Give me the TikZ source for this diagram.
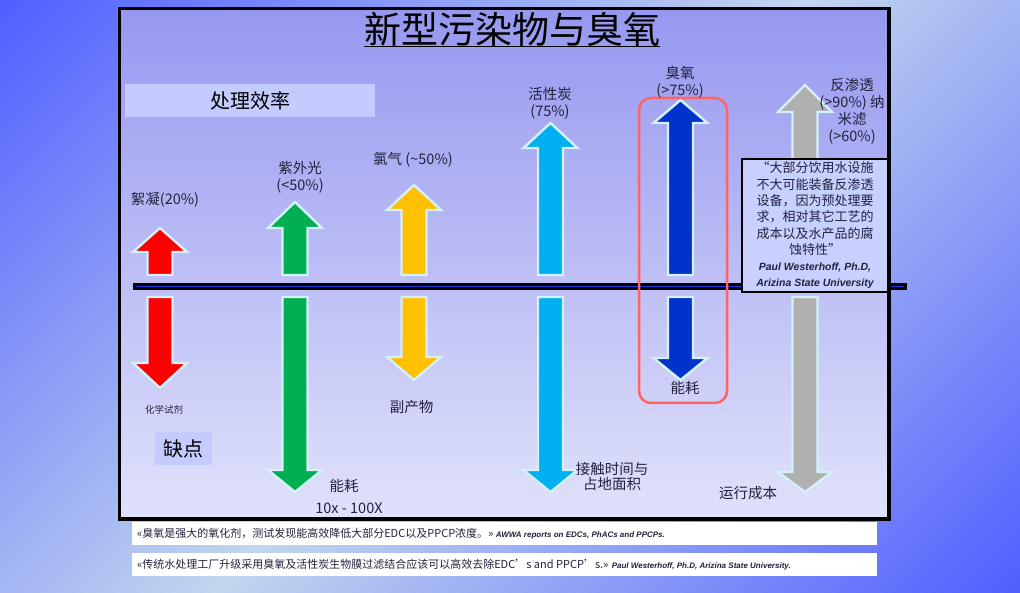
\documentclass[tikz,border=0pt]{standalone}
\usepackage{fontspec}
\setmainfont{Noto Sans CJK SC}
\newfontfamily\credfont{Liberation Sans}
\definecolor{bgdark}{RGB}{82,96,255}
\definecolor{bglight}{RGB}{194,214,238}
\definecolor{frtop}{RGB}{150,152,240}
\definecolor{frbot}{RGB}{224,226,250}
\definecolor{boxblue}{RGB}{196,204,255}
\definecolor{quotebg}{RGB}{200,208,255}
\definecolor{txtc}{RGB}{34,34,60}
\definecolor{arrline}{RGB}{212,240,250}
\definecolor{arrred}{RGB}{255,0,0}
\definecolor{arrgreen}{RGB}{0,176,80}
\definecolor{arryellow}{RGB}{255,192,0}
\definecolor{arrcyan}{RGB}{0,176,240}
\definecolor{arrblue}{RGB}{0,51,204}
\definecolor{arrgray}{RGB}{176,176,176}
\definecolor{ozred}{RGB}{255,100,100}
\definecolor{divblue}{RGB}{20,60,230}
\pgfdeclarehorizontalshading{bgdiag}{100bp}{color(0bp)=(bgdark); color(15bp)=(bgdark); color(50bp)=(bglight); color(85bp)=(bgdark); color(100bp)=(bgdark)}
\begin{document}
\begin{tikzpicture}[x=1pt, y=-1pt,
    lbl/.style={font=\fontsize{14.5}{17}\selectfont, text=txtc, align=center, inner sep=0pt},
    blockarr/.style={draw=arrline, line width=2.4pt, line join=miter},
    tagbox/.style={fill=boxblue, inner sep=0pt, text=black, font=\fontsize{20}{22}\selectfont},
    quotebox/.style={draw=black, line width=1.3pt, fill=quotebg, minimum width=146pt, minimum height=133pt, inner sep=0pt, align=center, text=txtc, font=\fontsize{13}{16.3}\selectfont},
    notebox/.style={fill=white, minimum height=23pt, text width=735pt, inner xsep=5pt, inner ysep=0pt, align=flush left, text=txtc, font=\fontsize{11}{13}\selectfont}
]
% Background and frame
\shade[shading=bgdiag, shading angle=-45] (0,0) rectangle (1020,593);
\shade[top color=frtop, bottom color=frbot] (119.5,8.5) rectangle (889,519);

% Title
\node[font=\fontsize{37}{40}\selectfont, inner sep=0pt] (title) at (512,29) {新型污染物与臭氧};
\draw[line width=1.2pt] (title.south west) -- (title.south east);

% Divider
\draw[line width=7pt] (133,286.5) -- (907,286.5);
\draw[line width=1.6pt, divblue] (136,286.5) -- (904,286.5);

% Efficiency arrows
\filldraw[blockarr, fill=arrred] (147.5,275) |- (133,252) -- (160,228) -- (187,252) -| (172.5,275) -- cycle;
\filldraw[blockarr, fill=arrgreen] (282.5,275) |- (268,228) -- (295,202) -- (322,228) -| (307.5,275) -- cycle;
\filldraw[blockarr, fill=arryellow] (401.5,275) |- (387,210) -- (414,185) -- (441,210) -| (426.5,275) -- cycle;
\filldraw[blockarr, fill=arrcyan] (538,275) |- (523.5,148) -- (550.5,123) -- (577.5,148) -| (563,275) -- cycle;
\filldraw[blockarr, fill=arrblue] (668,275) |- (653.5,123) -- (680.5,100) -- (707.5,123) -| (693,275) -- cycle;
\filldraw[blockarr, fill=arrgray] (792.5,275) |- (778,112) -- (805,85) -- (832,112) -| (817.5,275) -- cycle;

% Drawback arrows
\filldraw[blockarr, fill=arrred] (147.5,297) |- (133,363) -- (160,388) -- (187,363) -| (172.5,297) -- cycle;
\filldraw[blockarr, fill=arrgreen] (282.5,297) |- (268,470) -- (295,492) -- (322,470) -| (307.5,297) -- cycle;
\filldraw[blockarr, fill=arryellow] (401.5,297) |- (387,357) -- (414,380) -- (441,357) -| (426.5,297) -- cycle;
\filldraw[blockarr, fill=arrcyan] (538,297) |- (523.5,470) -- (550.5,492) -- (577.5,470) -| (563,297) -- cycle;
\filldraw[blockarr, fill=arrblue] (668,297) |- (653.5,358) -- (680.5,380) -- (707.5,358) -| (693,297) -- cycle;
\filldraw[blockarr, fill=arrgray] (792.5,297) |- (778,472) -- (805,492) -- (832,472) -| (817.5,297) -- cycle;

% Ozone highlight
\node[draw=ozred, line width=2.5pt, rounded corners=12pt, minimum width=88pt, minimum height=305pt] (ozframe) at (683,250.5) {};

% Tags
\node[tagbox, minimum width=250pt, minimum height=33pt] (efftag) at (250,100.5) {处理效率};
\node[tagbox, minimum width=57pt, minimum height=33pt] (flawtag) at (183.5,448.5) {缺点};

% Efficiency labels
\node[lbl] (lblfloc) at (165,200) {絮凝(20\%)};
\node[lbl] (lbluv) at (300,177.5) {紫外光\\(<50\%)};
\node[lbl] (lblcl) at (413,160) {氯气 (\textasciitilde50\%)};
\node[lbl] (lblac) at (550,103.5) {活性炭\\(75\%)};
\node[lbl] (lbloz) at (680,82) {臭氧\\(>75\%)};
\node[lbl] (lblro) at (852,111) {反渗透\\(>90\%) 纳\\米滤\\(>60\%)};

% Drawback labels
\node[lbl, font=\fontsize{9.5}{11}\selectfont] (lblchem) at (164,410) {化学试剂};
\node[lbl] (lblenergya) at (344,486) {能耗};
\node[lbl] (lblfactor) at (349,508) {10x - 100X};
\node[lbl] (lblbyprod) at (411.5,407) {副产物};
\node[lbl, font=\fontsize{14.5}{15.5}\selectfont] (lblcontact) at (612,476.5) {接触时间与\\占地面积};
\node[lbl] (lblenergyb) at (685,388) {能耗};
\node[lbl] (lblopcost) at (748,493) {运行成本};

% Quote
\node[quotebox] (quote) at (815,225.5) {“大部分饮用水设施\\不大可能装备反渗透\\设备，因为预处理要\\求，相对其它工艺的\\成本以及水产品的腐\\蚀特性”\\
  {\credfont\bfseries\itshape\fontsize{10.5}{12.5}\selectfont Paul Westerhoff, Ph.D,}\\
  {\credfont\bfseries\itshape\fontsize{10.5}{13.5}\selectfont Arizina State University}};

% Frame border
\draw[line width=3.5pt] (119.5,8.5) rectangle (889,519);

% Notes
\node[notebox] (notea) at (504.5,533.5) {«臭氧是强大的氧化剂，测试发现能高效降低大部分EDC以及PPCP浓度。» {\credfont\bfseries\itshape\fontsize{8}{10}\selectfont AWWA reports on EDCs, PhACs and PPCPs.}};
\node[notebox] (noteb) at (504.5,564.5) {«传统水处理工厂升级采用臭氧及活性炭生物膜过滤结合应该可以高效去除EDC’s and PPCP’s.» {\credfont\bfseries\itshape\fontsize{8}{10}\selectfont Paul Westerhoff, Ph.D, Arizina State University.}};
\end{tikzpicture}
\end{document}
